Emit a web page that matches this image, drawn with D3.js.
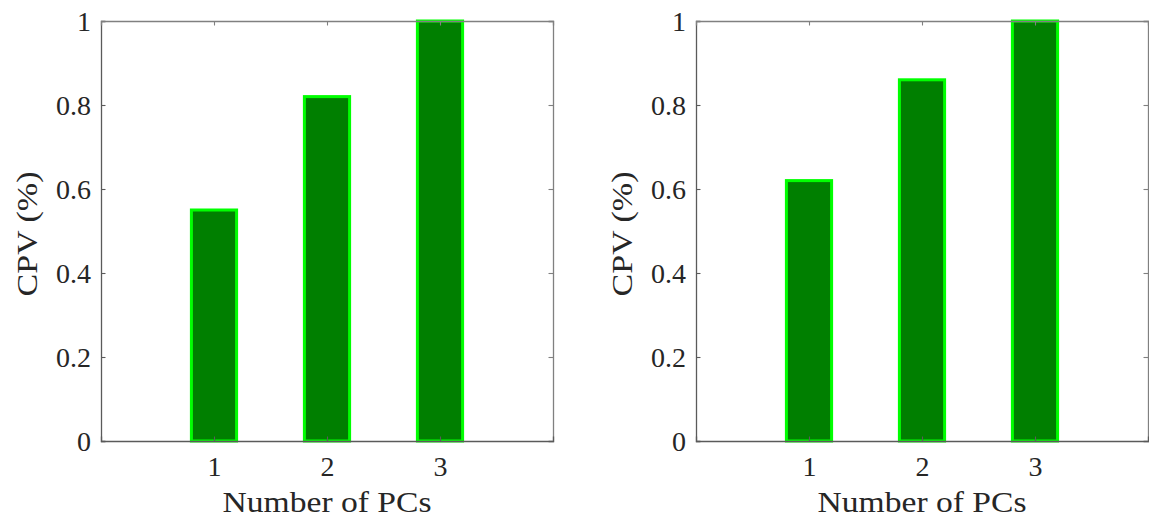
<!DOCTYPE html>
<html>
<head>
<meta charset="utf-8">
<script src="https://cdn.jsdelivr.net/npm/d3@7"></script>
<style>
  html, body { margin: 0; padding: 0; background: #fff; }
  svg text { font-family: "Liberation Serif", "DejaVu Serif", serif; fill: #262626; }
</style>
</head>
<body>
<svg id="chart" width="1149" height="519"></svg>
<script>
// Cumulative proportion of variance per number of principal components
const components = [1, 2, 3];
const cpvLeft = [0.55, 0.82, 1.0];
const cpvRight = [0.62, 0.86, 1.0];
const xTicks = [1, 2, 3];
const yTicks = [0, 0.2, 0.4, 0.6, 0.8, 1];

const svg = d3.select("#chart");
const panels = [
  { values: cpvLeft, left: 101, right: 553 },
  { values: cpvRight, left: 696, right: 1148 }
];
const plotTop = 21, plotBottom = 441;
const axisColor = "#5a5a5a";
const boxColor = "#808080";
const tickLen = 4.5;
const tickFont = 28;
const labelFont = 30;

panels.forEach(p => {
  const x = d3.scaleLinear().domain([0, 4]).range([p.left, p.right]);
  const y = d3.scaleLinear().domain([0, 1]).range([plotBottom, plotTop]);
  const g = svg.append("g");
  const barW = x(0.4) - x(0);

  // bars
  g.selectAll("rect.bar").data(components.map((c, i) => ({ c, v: p.values[i] })))
    .enter().append("rect")
    .attr("class", "bar")
    .attr("x", d => x(d.c) - barW / 2)
    .attr("y", d => y(d.v))
    .attr("width", barW)
    .attr("height", d => y(0) - y(d.v))
    .attr("fill", "#007f00")
    .attr("stroke", "#00ff00")
    .attr("stroke-width", 3);

  // axes (box with inward ticks on all sides)
  const fmt = d => d3.format("~g")(d);
  const gl = g.append("g").attr("transform", `translate(${p.left},0)`)
    .call(d3.axisLeft(y).tickValues(yTicks).tickSize(-tickLen).tickPadding(14).tickFormat(fmt));
  const gr = g.append("g").attr("transform", `translate(${p.right},0)`)
    .call(d3.axisRight(y).tickValues(yTicks).tickSize(-tickLen).tickFormat(""));
  const gb = g.append("g").attr("transform", `translate(0,${plotBottom})`)
    .call(d3.axisBottom(x).tickValues(xTicks).tickSize(-tickLen).tickPadding(14).tickFormat(fmt));
  const gt = g.append("g").attr("transform", `translate(0,${plotTop})`)
    .call(d3.axisTop(x).tickValues(xTicks).tickSize(-tickLen).tickFormat(""));

  [[gl, axisColor], [gb, axisColor], [gr, boxColor], [gt, boxColor]].forEach(([a, c]) => {
    a.select(".domain").attr("stroke", c).attr("stroke-width", 1.3);
    a.selectAll(".tick line").attr("stroke", c).attr("stroke-width", 1.1);
    a.selectAll(".tick text").attr("font-size", tickFont)
      .attr("font-family", "'Liberation Serif', 'DejaVu Serif', serif").attr("fill", "#262626");
  });
  gl.selectAll(".tick text").attr("x", -10).attr("dy", "0.34em");
  gb.selectAll(".tick text").attr("y", 0).attr("dy", 35);

  // axis titles
  g.append("text")
    .attr("x", (p.left + p.right) / 2)
    .attr("y", 512)
    .attr("text-anchor", "middle")
    .attr("font-size", labelFont)
    .attr("textLength", 209)
    .attr("lengthAdjust", "spacingAndGlyphs")
    .text("Number of PCs");
  g.append("text")
    .attr("transform", `translate(${p.left - 64},${(plotTop + plotBottom) / 2 + 3}) rotate(-90)`)
    .attr("text-anchor", "middle")
    .attr("font-size", labelFont)
    .attr("textLength", 125)
    .attr("lengthAdjust", "spacingAndGlyphs")
    .text("CPV (%)");
});
</script>
</body>
</html>
